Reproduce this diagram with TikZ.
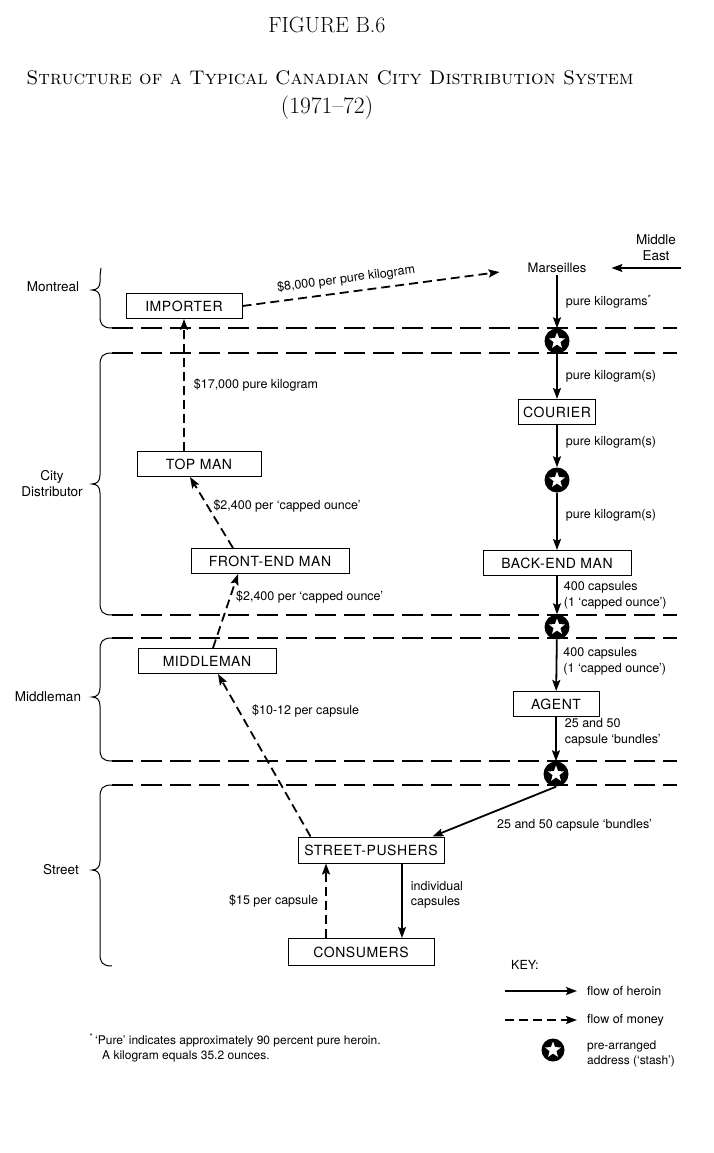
\documentclass[tikz,border=0pt]{standalone}
\usepackage{fontspec}
\setsansfont{TeX Gyre Heros}
\usetikzlibrary{positioning, arrows.meta, shapes.geometric}

\begin{document}
\begin{tikzpicture}[x=1pt, y=-1pt,
        box/.style={rectangle, draw, line width=1pt, minimum height=25pt, inner sep=2pt, font=\sffamily\fontsize{14}{16}\selectfont\addfontfeatures{LetterSpace=4}},
        lbl/.style={font=\sffamily\fontsize{12.5}{15.5}\selectfont, align=left, inner sep=2pt},
        tier/.style={font=\sffamily\fontsize{13.5}{16}\selectfont, align=center, inner sep=2pt},
        heroin/.style={-{Stealth[length=11pt, width=8pt, inset=2pt]}, line width=1.8pt},
        money/.style={heroin, dash pattern=on 9pt off 5pt},
        bound/.style={line width=1.2pt, dash pattern=on 21pt off 8pt},
        tierbrace/.style={line width=1pt},
        stash/.style={circle, fill=black, minimum size=25pt, inner sep=0pt,
            path picture={\node[star, star points=5, star point ratio=2.4, fill=white, minimum size=17pt, inner sep=0pt] at (path picture bounding box.center) {};}}
    ]
        \useasboundingbox (0,0) rectangle (713,1153);

        % Title
        \node[font=\fontsize{22}{24}\selectfont] (fig) at (327,25) {FIGURE B.6};
        \node[font=\fontsize{19.7}{24}\selectfont] (ttl) at (330,78) {\textsc{Structure of a Typical Canadian City Distribution System}};
        \node[font=\fontsize{23.5}{26}\selectfont] (yrs) at (327,108) {(1971--72)};

        % Tier boundaries
        \foreach \y in {328, 353, 615, 638, 761, 785}
            \draw[bound] (112,\y) -- (677,\y);
        \draw[tierbrace] (101,268) .. controls (100,272) .. (100,276) -- (100,282) .. controls (100,287) and (97,290) .. (92,290) .. controls (97,290) and (100,293) .. (100,298) -- (100,316) .. controls (100,324) and (102,328) .. (112,328);
        \foreach \t/\m/\b in {353/484/615, 638/697/761, 785/870/966}
            \draw[tierbrace] (112,\t) .. controls (102,\t) and (100,\t+4) .. (100,\t+12) -- (100,\m-9) .. controls (100,\m-3) and (97,\m) .. (92,\m) .. controls (97,\m) and (100,\m+3) .. (100,\m+9) -- (100,\b-12) .. controls (100,\b-4) and (102,\b) .. (112,\b);

        % Tier labels
        \node[tier] (tmon) at (53,287) {Montreal};
        \node[tier] (tcity) at (52,484) {City\\Distributor};
        \node[tier] (tmid) at (48,697) {Middleman};
        \node[tier] (tstr) at (61,870) {Street};

        % Money side
        \node[box, minimum width=116pt] (imp) at (184,306) {IMPORTER};
        \node[box, minimum width=124pt] (top) at (199,464) {TOP MAN};
        \node[box, minimum width=158pt] (fem) at (270,561) {FRONT-END MAN};
        \node[box, minimum width=138pt] (mid) at (207,661) {MIDDLEMAN};
        \node[box, minimum width=146pt, minimum height=26pt] (sp) at (371,850) {STREET-PUSHERS};
        \node[box, minimum width=146pt, minimum height=27pt] (con) at (361,952) {CONSUMERS};

        % Heroin side
        \node[tier, font=\sffamily\fontsize{13}{16}\selectfont] (mars) at (557,268) {Marseilles};
        \node[tier] (mde) at (656,248) {Middle\\East};
        \coordinate (mdx) at (681,268);
        \node[stash] (st1) at (557,341) {};
        \node[box, minimum width=77pt] (cou) at (557,412) {COURIER};
        \node[stash] (st2) at (557,480) {};
        \node[box, minimum width=148pt] (bem) at (557,563) {BACK-END MAN};
        \node[stash] (st3) at (557,627) {};
        \node[box, minimum width=86pt] (agt) at (556,704) {AGENT};
        \node[stash] (st4) at (556,774) {};

        % Flow of heroin
        \draw[heroin] (mdx) -- ([xshift=23pt]mars.east);
        \draw[heroin] (mars) -- node[lbl, right=6pt] {pure kilograms\textsuperscript{*}} (st1);
        \draw[heroin] (st1) -- node[lbl, right=6pt] {pure kilogram(s)} (cou);
        \draw[heroin] (cou) -- node[lbl, pos=.4, right=6pt] {pure kilogram(s)} (st2);
        \draw[heroin] (st2) -- node[lbl, pos=.4, right=6pt] {pure kilogram(s)} (bem);
        \draw[heroin] (bem) -- node[lbl, right=4pt] {400 capsules\\(1 ‘capped ounce’)} (st3);
        \draw[heroin] (st3) -- node[lbl, pos=.42, right=4pt] {400 capsules\\(1 ‘capped ounce’)} (agt);
        \draw[heroin] (agt) -- node[lbl, pos=.35, right=6pt] {25 and 50\\capsule ‘bundles’} (st4);
        \draw[heroin] (st4.south) -- node[lbl, pos=.5, anchor=north west, yshift=-5pt] {25 and 50 capsule ‘bundles’} ([xshift=-12pt]sp.north east);
        \draw[heroin] ([xshift=31pt]sp.south) -- node[lbl, pos=.42, right=6pt] {individual\\capsules} ([xshift=31pt]sp.south |- con.north);

        % Flow of money
        \draw[money] ([xshift=-45pt]sp.south |- con.north) -- node[lbl, left=5pt] {\$15 per capsule} ([xshift=-45pt]sp.south);
        \draw[money] ([xshift=13pt]sp.north west) -- node[lbl, pos=.77, right=10pt] {\$10-12 per capsule} ([xshift=11pt]mid.south);
        \draw[money] ([xshift=6pt]mid.north) -- node[lbl, pos=.69, right=3pt] {\$2,400 per ‘capped ounce’} ([xshift=-32pt]fem.south);
        \draw[money] ([xshift=-37pt]fem.north) -- node[lbl, pos=.59, right=3pt] {\$2,400 per ‘capped ounce’} ([xshift=-9pt]top.south);
        \draw[money] (top.north -| imp.south) -- node[lbl, right=7pt] {\$17,000 pure kilogram} (imp.south);
        \draw[money] (imp.east) -- node[lbl, pos=.41, above=4pt, sloped] {\$8,000 per pure kilogram} ([xshift=-26pt, yshift=-4pt]mars.west);

        % Key
        \node[lbl, anchor=west] (key) at (509,965) {KEY:};
        \coordinate (kh) at (505,991);
        \node[lbl, anchor=west] (kht) at (585,991) {flow of heroin};
        \draw[heroin] (kh) -- ([xshift=-8pt]kht.west);
        \coordinate (km) at (505,1020);
        \node[lbl, anchor=west] (kmt) at (585,1020) {flow of money};
        \draw[money] (km) -- ([xshift=-8pt]kmt.west);
        \node[stash, minimum size=23pt] (kst) at (553,1050) {};
        \node[lbl, anchor=west, font=\sffamily\fontsize{12}{15}\selectfont] (kstt) at (585,1054) {pre-arranged\\address (‘stash’)};

        % Footnote
        \node[lbl, anchor=west, font=\sffamily\fontsize{12}{15}\selectfont] (fn) at (93,1048) {\llap{\textsuperscript{*}\,}‘Pure’ indicates approximately 90 percent pure heroin.\\\hspace*{7pt}A kilogram equals 35.2 ounces.};
    \end{tikzpicture}
\end{document}
